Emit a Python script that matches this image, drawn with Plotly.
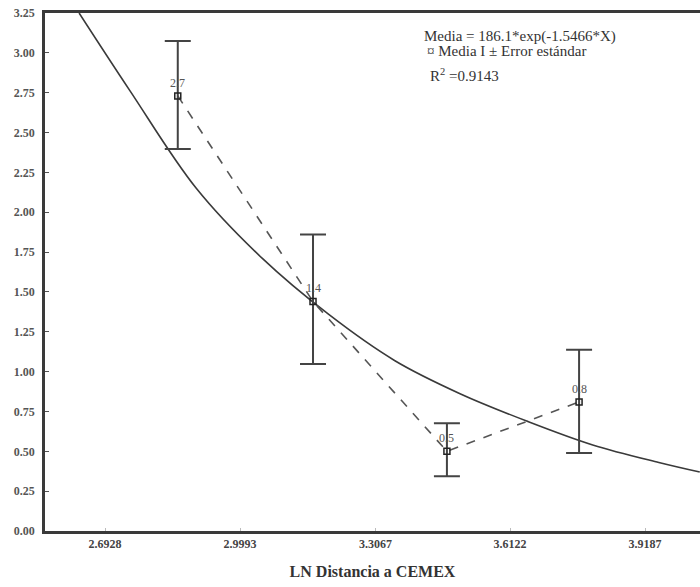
import plotly.graph_objects as go

# ---- data ----
x_means = [2.858, 3.165, 3.469, 3.769]
y_means = [2.73, 1.44, 0.50, 0.81]
err_plus = [0.345, 0.42, 0.176, 0.327]
err_minus = [0.333, 0.392, 0.157, 0.320]
point_labels = ["2.7", "1.4", "0.5", "0.8"]

curve_x = [2.634, 2.75, 2.90, 3.05, 3.20, 3.35, 3.50, 3.65, 3.80, 3.95, 4.043]
curve_y = [3.25, 2.76, 2.15, 1.71, 1.36, 1.07, 0.86, 0.69, 0.54, 0.43, 0.37]

x_tickvals = [2.6928, 2.9993, 3.3067, 3.6122, 3.9187]
x_ticktext = ["2.6928", "2.9993", "3.3067", "3.6122", "3.9187"]
y_tickvals = [0, 0.25, 0.5, 0.75, 1.0, 1.25, 1.5, 1.75, 2.0, 2.25, 2.5, 2.75, 3.0, 3.25]
y_ticktext = ["0.00", "0.25", "0.50", "0.75", "1.00", "1.25", "1.50", "1.75",
              "2.00", "2.25", "2.50", "2.75", "3.00", "3.25"]

x_title = "LN Distancia a CEMEX"
eq_lines = ["Media = 186.1*exp(-1.5466*X)",
            "¤ Media Ι ± Error estándar",
            "R<sup>2</sup> =0.9143"]

SERIF = "Liberation Serif, Times New Roman, serif"
DARK = "#3a3a3a"

fig = go.Figure()

# fitted curve
fig.add_trace(go.Scatter(
    x=curve_x, y=curve_y, mode="lines",
    line=dict(color=DARK, width=1.6, shape="spline", smoothing=1.0),
    hoverinfo="skip", showlegend=False))

# dashed line joining means
fig.add_trace(go.Scatter(
    x=x_means, y=y_means, mode="lines",
    line=dict(color="#555555", width=1.6, dash="dash"),
    hoverinfo="skip", showlegend=False))

# error bars + markers
fig.add_trace(go.Scatter(
    x=x_means, y=y_means, mode="markers",
    marker=dict(symbol="square-open", size=6, color="#222222",
                line=dict(width=1.5, color="#222222")),
    error_y=dict(type="data", symmetric=False, array=err_plus,
                 arrayminus=err_minus, color="#444444", thickness=2, width=13),
    showlegend=False))

# point labels
for xv, yv, t in zip(x_means, y_means, point_labels):
    fig.add_annotation(x=xv, y=yv, text=t, showarrow=False,
                       xanchor="center", yanchor="bottom", yshift=4,
                       font=dict(family=SERIF, size=12, color="#555555"))

# equation / legend text
fig.add_annotation(xref="paper", yref="paper", x=0.575, y=0.975, xanchor="left", yanchor="top",
                   text=eq_lines[0], showarrow=False,
                   font=dict(family=SERIF, size=15, color="#333333"))
fig.add_annotation(xref="paper", yref="paper", x=0.58, y=0.945, xanchor="left", yanchor="top",
                   text=eq_lines[1], showarrow=False,
                   font=dict(family=SERIF, size=15, color="#333333"))
fig.add_annotation(xref="paper", yref="paper", x=0.585, y=0.902, xanchor="left", yanchor="top",
                   text=eq_lines[2], showarrow=False,
                   font=dict(family=SERIF, size=15, color="#333333"))

fig.update_layout(
    width=700, height=587,
    margin=dict(l=45, r=0, t=13, b=56),
    paper_bgcolor="white", plot_bgcolor="white",
    showlegend=False,
    xaxis=dict(range=[2.5566, 4.0435], tickvals=x_tickvals, ticktext=x_ticktext,
               showgrid=False, zeroline=False, showline=True, linecolor=DARK,
               linewidth=2.5, mirror=True, ticks="inside", ticklen=3,
               tickcolor="#bbbbbb",
               tickfont=dict(family=SERIF, size=12, color="#444444", weight="bold"),
               title=dict(text=x_title, standoff=16,
                          font=dict(family=SERIF, size=16, color="#333333", weight="bold"))),
    yaxis=dict(range=[0, 3.25], tickvals=y_tickvals, ticktext=y_ticktext,
               showgrid=False, zeroline=False, showline=True, linecolor=DARK,
               linewidth=2.5, mirror=False, ticks="inside", ticklen=4,
               tickcolor="#555555", ticklabelstandoff=5,
               tickfont=dict(family=SERIF, size=12, color="#555555", weight="bold")),
)

fig.write_html("out.html")
